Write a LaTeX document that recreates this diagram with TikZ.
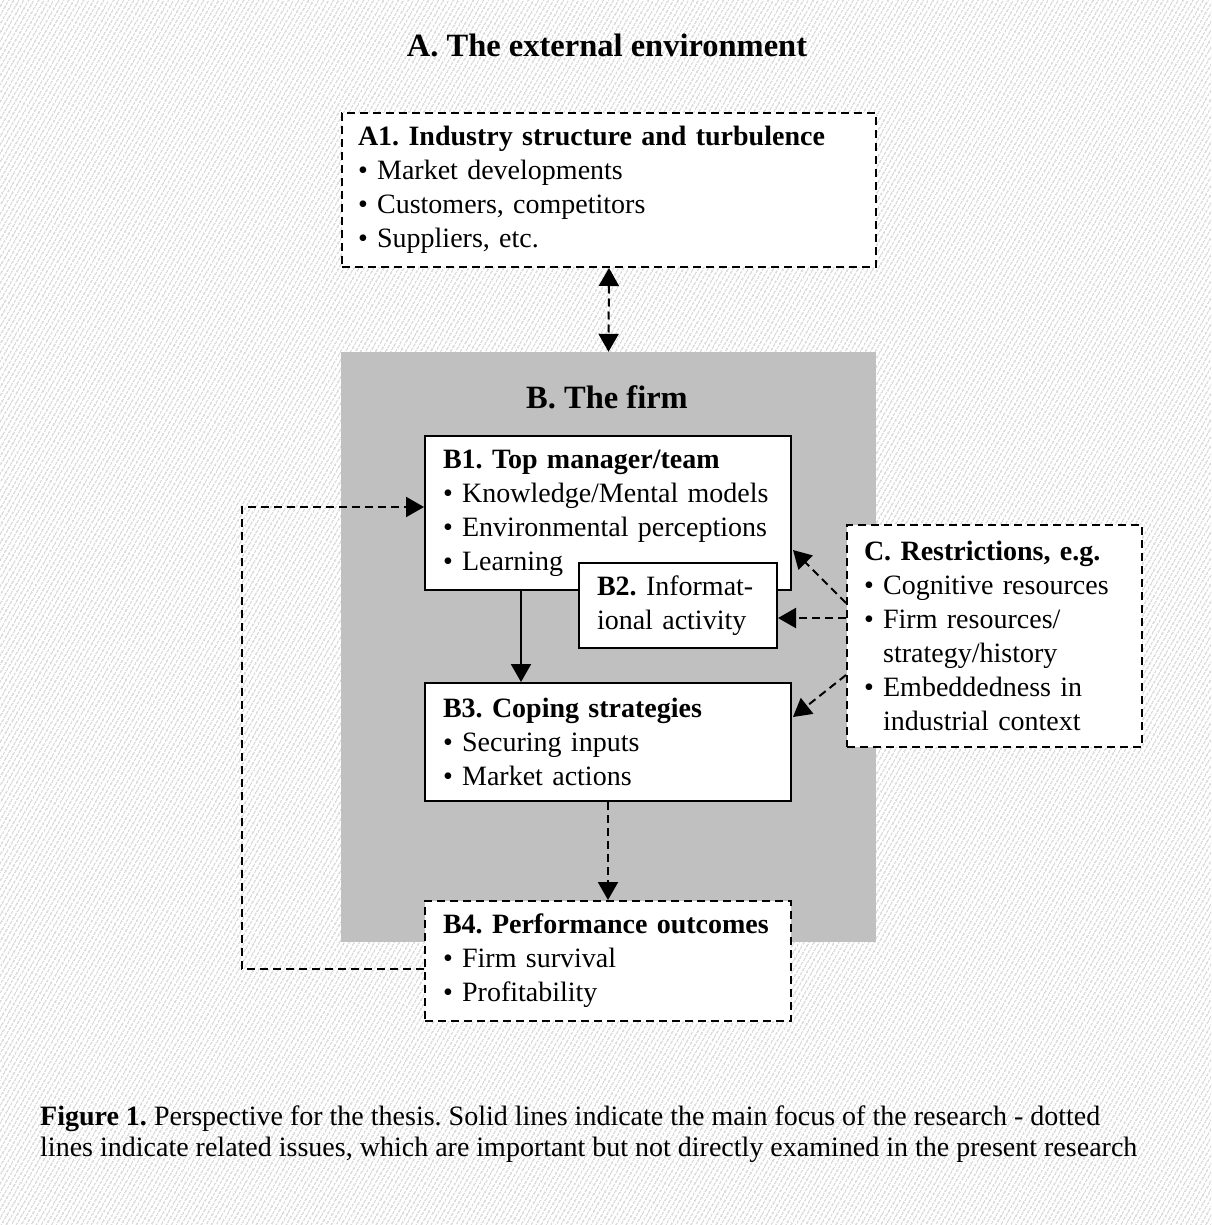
\documentclass[tikz,border=0pt]{standalone}
\usepackage{fontspec}
\setmainfont{Liberation Serif}
\usetikzlibrary{arrows.meta,patterns.meta}
\definecolor{firmgray}{HTML}{C0C0C0}
\definecolor{hatchgray}{HTML}{CACACA}
\begin{document}
\frenchspacing
\begin{tikzpicture}[x=1pt,y=-1pt,
  txt/.style={font=\fontsize{28}{34}\selectfont\frenchspacing},
  boxsolid/.style={draw=black, line width=2pt, fill=white, align=left, txt, inner ysep=0pt},
  boxdash/.style={boxsolid, dash pattern=on 8pt off 5pt},
  tip/.style={-{Triangle[length=18pt,width=20pt]}},
  solidline/.style={line width=2pt},
  dline/.style={line width=2pt, dash pattern=on 8pt off 5pt},
  bigtitle/.style={font=\bfseries\fontsize{32.5}{38}\selectfont\frenchspacing, inner sep=0pt},
  captxt/.style={font=\fontsize{28}{31}\selectfont\frenchspacing, inner sep=0pt, anchor=base west}
]
% background
\fill[white] (0,0) rectangle (1211,1225);
\fill[pattern={Lines[angle=60,distance=4pt,line width=1.2pt]}, pattern color=hatchgray] (0,0) rectangle (1211,1225);
\useasboundingbox (0,0) rectangle (1211,1225);

\node[bigtitle] (Atitle) at (607,45) {A. The external environment};

\node[boxdash, text width=502pt, inner xsep=16pt, minimum height=154pt] (A1) at (609,190)
  {\textbf{A1. Industry structure and turbulence}\\• Market developments\\• Customers, competitors\\• Suppliers, etc.};

\node[fill=firmgray, minimum width=535pt, minimum height=590pt, inner sep=0pt] (B) at (608.5,647) {};
\node[bigtitle] (Btitle) at (607,397) {B. The firm};

\node[boxsolid, text width=330pt, inner xsep=18pt, minimum height=154pt] (B1) at (608,513)
  {\textbf{B1. Top manager/team}\\• Knowledge/Mental models\\• Environmental perceptions\\• Learning};

\node[boxsolid, text width=162pt, inner xsep=18pt, minimum height=85pt] (B2) at (678,605.5)
  {\textbf{B2.} Informat-\\ional activity};

\node[boxsolid, text width=330pt, inner xsep=18pt, minimum height=118pt] (B3) at (608,742)
  {\textbf{B3. Coping strategies}\\• Securing inputs\\• Market actions};

\node[boxdash, text width=330pt, inner xsep=18pt, minimum height=120pt] (B4) at (608,961)
  {\textbf{B4. Performance outcomes}\\• Firm survival\\• Profitability};

\node[boxdash, text width=261pt, inner xsep=17pt, minimum height=222pt] (C) at (994.5,636)
  {\textbf{C. Restrictions, e.g.}\\• Cognitive resources\\• Firm resources/\\\hphantom{•}~strategy/history\\• Embeddedness in\\\hphantom{•}~industrial context};

% connectors
\draw[dline, {Triangle[length=18pt,width=20pt]}-{Triangle[length=18pt,width=20pt]}] (A1.south) -- (B.north);
\coordinate (sx) at (521,0);
\draw[solidline, tip] (B1.south -| sx) -- (B3.north -| sx);
\draw[dline, tip] (B3.south) -- (B4.north);
\coordinate (fb1) at (242,969);
\coordinate (fb2) at (242,507);
\draw[dline, tip] (B4.west |- fb1) -- (fb1) -- (fb2) -- (B1.west |- fb2);
\draw[dline, tip] ([yshift=33pt]C.west) -- ([yshift=-37pt,xshift=1pt]B1.east);
\draw[dline, tip] ([yshift=18pt]C.west) -- ([yshift=-12.5pt]B2.east);
\draw[dline, tip] ([yshift=-39pt]C.west) -- ([yshift=25pt,xshift=1pt]B3.east);

% caption
\node[captxt] (cap1) at (40,1125) {\textbf{Figure 1.} Perspective for the thesis. Solid lines indicate the main focus of the research - dotted};
\node[captxt] (cap2) at (40,1156) {lines indicate related issues, which are important but not directly examined in the present research};
\end{tikzpicture}
\end{document}
